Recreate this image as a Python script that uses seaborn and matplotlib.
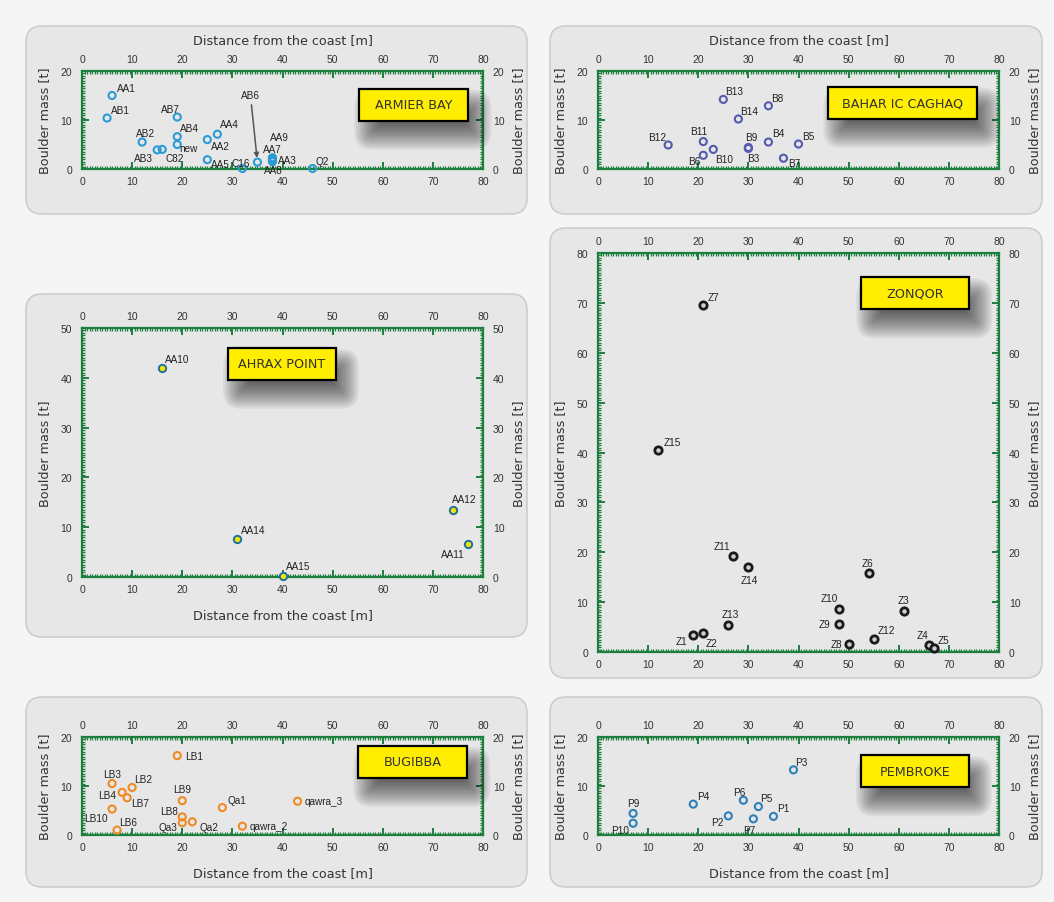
import numpy as np
import pandas as pd
import seaborn as sns
import matplotlib.pyplot as plt
from matplotlib.patches import FancyBboxPatch, Rectangle
from matplotlib.ticker import MultipleLocator

# values: distance from the coast [m] and boulder mass [t]
armier_names = ["AA1", "AB1", "AB2", "AB3", "C82", "AB7", "AB4", "new", "AA2",
                "AA4", "AA5", "C16", "AB6", "AA7", "AA9", "AA3", "AA8", "Q2"]
armier_dist = [6, 5, 12, 15, 16, 19, 19, 19, 25, 27, 25, 32, 35, 38, 38, 38, 38, 46]
armier_mass = [15.0, 10.4, 5.5, 3.9, 4.0, 10.6, 6.6, 5.0, 6.0, 7.1, 1.9, 0.1,
               1.4, 2.3, 2.1, 1.8, 1.5, 0.1]

bahar_names = ["B13", "B8", "B14", "B12", "B11", "B10", "B6", "B9", "B3", "B4", "B5", "B7"]
bahar_dist = [25, 34, 28, 14, 21, 23, 21, 30, 30, 34, 40, 37]
bahar_mass = [14.2, 12.9, 10.2, 4.9, 5.6, 4.0, 2.8, 4.4, 4.2, 5.5, 5.1, 2.2]

ahrax_names = ["AA10", "AA14", "AA15", "AA12", "AA11"]
ahrax_dist = [16, 31, 40, 74, 77]
ahrax_mass = [42.0, 7.6, 0.3, 13.4, 6.6]

zonqor_names = ["Z7", "Z15", "Z11", "Z14", "Z6", "Z10", "Z3", "Z9", "Z13", "Z1",
                "Z2", "Z12", "Z8", "Z4", "Z5"]
zonqor_dist = [21, 12, 27, 30, 54, 48, 61, 48, 26, 19, 21, 55, 50, 66, 67]
zonqor_mass = [69.5, 40.5, 19.2, 17.1, 15.8, 8.7, 8.2, 5.6, 5.5, 3.4, 3.8, 2.6, 1.6, 1.4, 0.9]

bugibba_names = ["LB1", "LB3", "LB2", "LB4", "LB7", "LB10", "LB6", "LB9", "LB8",
                 "Qa3", "Qa2", "Qa1", "qawra_2", "qawra_3"]
bugibba_dist = [19, 6, 10, 8, 9, 6, 7, 20, 20, 20, 22, 28, 32, 43]
bugibba_mass = [16.2, 10.5, 9.7, 8.7, 7.6, 5.3, 1.0, 7.0, 3.7, 2.5, 2.7, 5.6, 1.8, 6.9]

pembroke_names = ["P3", "P4", "P6", "P5", "P1", "P2", "P7", "P9", "P10"]
pembroke_dist = [39, 19, 29, 32, 35, 26, 31, 7, 7]
pembroke_mass = [13.3, 6.3, 7.1, 5.8, 3.8, 3.9, 3.3, 4.4, 2.4]

# label placement (offset in pixels, alignment)
armier_lab = [(5, 8, "left"), (4, 8, "left"), (3, 9, "center"), (-4, -8, "right"),
              (3, -9, "left"), (3, 8, "right"), (3, 9, "left"), (2, -4, "left"),
              (4, -6, "left"), (3, 10, "left"), (4, -4, "left"), (-2, 6, "center"),
              None, (0, 9, "center"), (7, 22, "center"), (6, 0, "left"),
              (1, -8, "center"), (3, 8, "left")]
bahar_lab = [(2, 8, "left"), (3, 8, "left"), (2, 8, "left"), (-2, 8, "right"),
             (-5, 11, "center"), (2, -10, "left"), (-3, -6, "right"), (3, 10, "center"),
             (5, -10, "center"), (4, 9, "left"), (4, 8, "left"), (5, -5, "left")]
ahrax_lab = [(3, 9, "left"), (4, 9, "left"), (3, 10, "left"), (-1, 11, "left"),
             (-3, -10, "right")]
zonqor_lab = [(4, 8, "left"), (5, 8, "left"), (-3, 10, "right"), (1, -13, "center"),
              (-1, 10, "center"), (-1, 11, "right"), (0, 11, "center"), (-8, 0, "right"),
              (2, 11, "center"), (-6, -6, "right"), (2, -10, "left"), (4, 9, "left"),
              (-6, 0, "right"), (-6, 10, "center"), (4, 8, "left")]
bugibba_lab = [(8, 0, "left"), (0, 10, "center"), (2, 8, "left"), (-6, -3, "right"),
               (4, -5, "left"), (-4, -9, "right"), (2, 8, "left"), (0, 12, "center"),
               (-4, 6, "right"), (-5, -4, "right"), (7, -5, "left"), (5, 8, "left"),
               (7, 0, "left"), (7, 0, "left")]
pembroke_lab = [(2, 8, "left"), (4, 8, "left"), (-4, 8, "center"), (2, 9, "left"),
                (4, 8, "left"), (-5, -6, "right"), (-4, -11, "center"), (0, 10, "center"),
                (-4, -7, "right")]

GREEN = "#1d7f3e"
PANEL = "#e7e7e7"
FIG_W, FIG_H = 1054, 903

sns.set_style("white")
plt.rcParams["font.family"] = ["Liberation Sans", "DejaVu Sans"]

fig = plt.figure(figsize=(FIG_W / 100, FIG_H / 100), dpi=100)
fig.patch.set_facecolor("#f5f5f5")

panels = [
    dict(site="ARMIER BAY", names=armier_names, x=armier_dist, y=armier_mass, lab=armier_lab,
         ax=(82, 72, 401, 98), box=(26, 27, 527, 215), ymax=20, xlab="top",
         title=(66.2, 13.1, 109), face="none", edge="#2b9bd6", lw=1.5, s=26),
    dict(site="BAHAR IC CAGHAQ", names=bahar_names, x=bahar_dist, y=bahar_mass, lab=bahar_lab,
         ax=(598, 72, 401, 98), box=(550, 27, 1042, 215), ymax=20, xlab="top",
         title=(60.8, 13.5, 149), face="none", edge="#5559b0", lw=1.5, s=26),
    dict(site="AHRAX POINT", names=ahrax_names, x=ahrax_dist, y=ahrax_mass, lab=ahrax_lab,
         ax=(82, 329, 401, 249), box=(26, 295, 527, 638), ymax=50, xlab="bottom",
         title=(39.9, 42.8, 108), face="#f2e600", edge="#1f6fa3", lw=1.4, s=28),
    dict(site="ZONQOR", names=zonqor_names, x=zonqor_dist, y=zonqor_mass, lab=zonqor_lab,
         ax=(598, 254, 401, 399), box=(550, 229, 1042, 679), ymax=80, xlab=None,
         title=(63.3, 71.9, 108), face="#cfcfcf", edge="#1a1a1a", lw=2.0, s=28),
    dict(site="BUGIBBA", names=bugibba_names, x=bugibba_dist, y=bugibba_mass, lab=bugibba_lab,
         ax=(82, 738, 401, 98), box=(26, 698, 527, 888), ymax=20, xlab="bottom",
         title=(66.0, 14.9, 109), face="none", edge="#f08a24", lw=1.5, s=26),
    dict(site="PEMBROKE", names=pembroke_names, x=pembroke_dist, y=pembroke_mass,
         lab=pembroke_lab, ax=(598, 738, 401, 98), box=(550, 698, 1042, 888), ymax=20,
         xlab="bottom", title=(63.2, 13.0, 108), face="none", edge="#2f80b8", lw=1.5, s=26),
]

for p in panels:
    # rounded grey card behind each chart
    x0, y0, x1, y1 = p["box"]
    card = FancyBboxPatch((x0 / 100, (FIG_H - y1) / 100), (x1 - x0) / 100, (y1 - y0) / 100,
                          boxstyle="round,pad=0,rounding_size=0.16",
                          transform=fig.dpi_scale_trans, facecolor=PANEL,
                          edgecolor="#cdcdcd", linewidth=1.2, zorder=-1)
    fig.patches.append(card)

    ax_x, ax_y, ax_w, ax_h = p["ax"]
    ax = fig.add_axes([ax_x / FIG_W, 1 - (ax_y + ax_h) / FIG_H, ax_w / FIG_W, ax_h / FIG_H])
    ax.set_facecolor("none")

    df = pd.DataFrame({"name": p["names"], "dist": p["x"], "mass": p["y"]})
    sns.scatterplot(data=df, x="dist", y="mass", ax=ax, s=p["s"], facecolor=p["face"],
                    edgecolor=p["edge"], linewidth=p["lw"], clip_on=False, zorder=3)

    ymax = p["ymax"]
    ax.set_xlim(0, 80)
    ax.set_ylim(0, ymax)
    ax.set_xlabel("")
    ax.set_ylabel("")
    ax.xaxis.set_major_locator(MultipleLocator(10))
    ax.yaxis.set_major_locator(MultipleLocator(10))
    ax.xaxis.set_minor_locator(MultipleLocator(0.5))
    ax.yaxis.set_minor_locator(MultipleLocator(0.5))
    for s in ax.spines.values():
        s.set_visible(True)
        s.set_color(GREEN)
        s.set_linewidth(1.6)
    ax.tick_params(which="both", direction="in", color=GREEN, top=True, right=True,
                   bottom=True, left=True, labeltop=True, labelright=True,
                   labelcolor="#333333", labelsize=7.5)
    ax.tick_params(which="major", length=5, width=1.4)
    ax.tick_params(which="minor", length=2.5, width=0.9)
    ax.tick_params(axis="x", pad=5)
    ax.tick_params(axis="y", pad=7)

    # axis titles
    lab_kw = dict(fontsize=9.2, color="#333333", family="DejaVu Sans",
                  transform=ax.transAxes, ha="center", va="center")
    ax.text(-37 / ax_w, 0.5, "Boulder mass [t]", rotation=90, **lab_kw)
    ax.text(1 + 36 / ax_w, 0.5, "Boulder mass [t]", rotation=90, **lab_kw)
    if p["xlab"] == "top":
        ax.text(0.5, 1 + 31 / ax_h, "Distance from the coast [m]", **lab_kw)
    elif p["xlab"] == "bottom":
        ax.text(0.5, -38 / ax_h, "Distance from the coast [m]", **lab_kw)

    # point labels
    for name, xv, yv, off in zip(p["names"], p["x"], p["y"], p["lab"]):
        if off is None:
            ax.annotate(name, (xv, yv), xytext=(-7, 67), textcoords="offset pixels",
                        ha="center", va="center", fontsize=7.2, color="#222222",
                        arrowprops=dict(arrowstyle="-|>", color="#555555", lw=1.1,
                                        mutation_scale=7, shrinkA=1, shrinkB=3))
            continue
        dx, dy, ha = off
        ax.annotate(name, (xv, yv), xytext=(dx, dy), textcoords="offset pixels",
                    ha=ha, va="center", fontsize=7.2, color="#222222", zorder=4)

    # yellow site box with a soft shadow (layered rounded boxes, in pixel units)
    cx, cy, bw_px = p["title"]
    px_y = ax_h / ymax
    px_x = ax_w / 80
    bh_px = 32
    box_cx = ax_x + cx * px_x
    box_cy = FIG_H - (ax_y + ax_h - cy * px_y)
    sh_cx, sh_cy = box_cx + 9, box_cy - 15
    for grow in range(-12, 15, 2):
        w = bw_px + 2 * grow
        h = bh_px + 2 * grow
        if h <= 2:
            continue
        r = max(2, min(h / 2, 4 + grow))
        ax.add_patch(FancyBboxPatch(((sh_cx - w / 2) / 100, (sh_cy - h / 2) / 100),
                                    w / 100, h / 100,
                                    boxstyle=f"round,pad=0,rounding_size={r / 100:.3f}",
                                    transform=fig.dpi_scale_trans, facecolor="black",
                                    edgecolor="none", alpha=0.055, zorder=4, clip_on=False))
    bw, bh = bw_px / px_x, bh_px / px_y
    ax.add_patch(Rectangle((cx - bw / 2, cy - bh / 2), bw, bh, facecolor="#ffee00",
                           edgecolor="black", linewidth=1.6, zorder=5))
    ax.text(cx, cy, p["site"], ha="center", va="center", fontsize=9.2, color="#333333",
            family="DejaVu Sans", zorder=6)

fig.savefig("out.png", dpi=100, facecolor=fig.get_facecolor())
